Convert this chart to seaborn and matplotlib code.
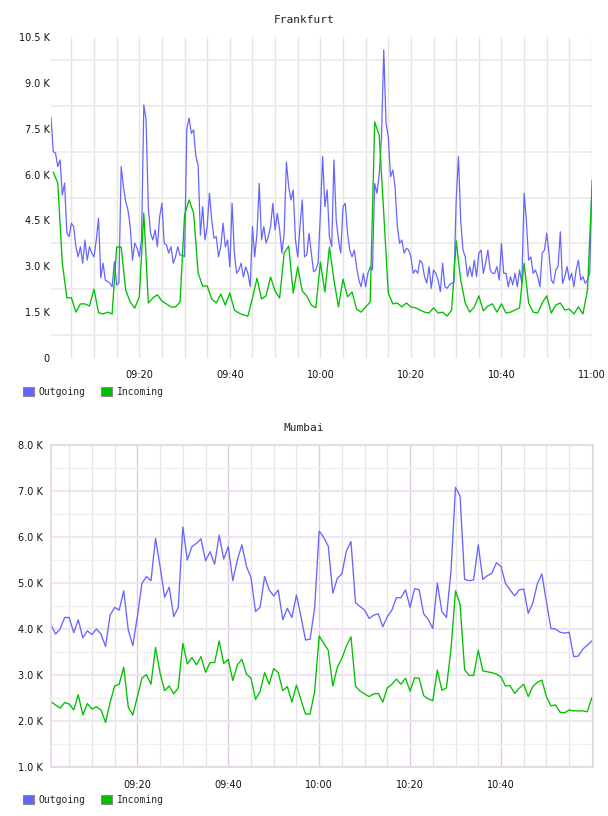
import numpy as np
import pandas as pd
import matplotlib
matplotlib.use("Agg")
import matplotlib.pyplot as plt
import matplotlib.dates as mdates
from matplotlib.patches import Patch
from matplotlib.ticker import FixedLocator, FuncFormatter, MultipleLocator
import seaborn as sns

# ---------------- data (values in thousands) ----------------
fra_out_start = "2024-01-01 09:00:30"   # 30 s samples
fra_in_start = "2024-01-01 09:01:00"    # 1 min samples
mum_start = "2024-01-01 09:01:00"       # 1 min samples

fra_outgoing = [
    7.87, 6.75, 6.70, 6.26, 6.48, 5.33, 5.72, 4.09, 3.97, 4.41,
    4.30, 3.64, 3.31, 3.64, 3.10, 3.86, 3.20, 3.64, 3.43, 3.31,
    3.86, 4.57, 2.62, 3.10, 2.55, 2.50, 2.45, 2.33, 3.15, 2.39,
    2.45, 6.26, 5.60, 5.11, 4.84, 4.30, 3.20, 3.76, 3.60, 3.31,
    3.86, 8.28, 7.79, 4.90, 4.08, 3.86, 4.19, 3.64, 4.62, 5.06,
    3.75, 3.70, 3.43, 3.64, 3.10, 3.31, 3.64, 3.37, 3.37, 3.31,
    7.50, 7.85, 7.35, 7.46, 6.59, 6.30, 4.02, 4.95, 3.86, 4.30,
    5.39, 4.51, 3.92, 3.97, 3.31, 3.64, 4.41, 3.64, 3.86, 2.98,
    5.06, 3.43, 2.77, 2.88, 3.10, 2.65, 2.98, 2.77, 2.33, 4.30,
    3.31, 4.08, 5.71, 3.86, 4.30, 3.76, 3.97, 4.30, 5.06, 4.19,
    4.73, 4.19, 3.43, 4.08, 6.41, 5.60, 5.17, 5.50, 3.86, 3.31,
    4.30, 5.17, 3.31, 3.37, 4.08, 3.43, 2.82, 2.88, 3.10, 4.73,
    6.59, 4.95, 5.50, 3.97, 3.64, 6.48, 4.51, 3.86, 3.43, 4.95,
    5.06, 4.08, 3.53, 3.31, 3.53, 2.98, 2.55, 2.33, 2.77, 2.33,
    2.77, 2.98, 2.88, 5.71, 5.39, 6.00, 7.20, 10.08, 7.68, 7.24,
    5.93, 6.15, 5.60, 4.30, 3.75, 3.86, 3.43, 3.59, 3.53, 3.31,
    2.77, 2.88, 2.77, 3.20, 3.10, 2.66, 2.45, 2.99, 2.28, 2.88,
    2.77, 2.55, 2.17, 3.10, 2.33, 2.28, 2.39, 2.45, 2.45, 5.17,
    6.59, 4.50, 3.53, 3.31, 2.66, 2.99, 2.66, 3.20, 2.66, 3.43,
    3.53, 2.77, 3.10, 3.53, 2.88, 2.77, 2.77, 2.99, 2.55, 3.75,
    2.77, 2.77, 2.33, 2.66, 2.39, 2.77, 2.33, 2.88, 2.44, 5.39,
    4.51, 3.20, 3.31, 2.77, 2.88, 2.66, 2.33, 3.43, 3.53, 4.08,
    3.43, 2.55, 2.44, 2.88, 2.99, 4.13, 2.44, 2.66, 2.99, 2.55,
    2.77, 2.33, 2.88, 3.20, 2.55, 2.66, 2.44, 2.55, 2.77, 5.82,
]

fra_incoming = [
    6.08, 5.72, 3.10, 1.97, 1.97, 1.50, 1.77, 1.77, 1.70, 2.25,
    1.48, 1.44, 1.50, 1.44, 3.63, 3.63, 2.22, 1.83, 1.63, 2.00,
    4.74, 1.80, 1.96, 2.07, 1.86, 1.77, 1.67, 1.67, 1.83, 4.68,
    5.17, 4.74, 2.78, 2.35, 2.36, 1.93, 1.80, 2.09, 1.73, 2.13,
    1.57, 1.47, 1.41, 1.37, 1.96, 2.61, 1.93, 2.03, 2.65, 2.19,
    1.96, 3.43, 3.66, 2.13, 2.98, 2.19, 2.03, 1.73, 1.64, 3.14,
    2.16, 3.63, 2.55, 1.67, 2.58, 2.00, 2.16, 1.60, 1.50, 1.67,
    1.83, 7.72, 7.29, 4.74, 2.13, 1.77, 1.80, 1.67, 1.80, 1.67,
    1.64, 1.57, 1.50, 1.47, 1.64, 1.47, 1.50, 1.37, 1.57, 3.83,
    2.55, 1.80, 1.50, 1.67, 2.03, 1.54, 1.70, 1.77, 1.50, 1.77,
    1.47, 1.50, 1.57, 1.64, 3.10, 1.80, 1.50, 1.47, 1.80, 2.03,
    1.47, 1.73, 1.80, 1.57, 1.60, 1.44, 1.67, 1.44, 2.22, 5.59,
]

mum_outgoing = [
    4.09, 3.89, 4.00, 4.25, 4.25, 3.92, 4.20, 3.81, 3.96, 3.88,
    4.00, 3.89, 3.62, 4.30, 4.47, 4.41, 4.83, 3.98, 3.64, 4.27,
    4.99, 5.14, 5.05, 5.97, 5.36, 4.69, 4.91, 4.27, 4.47, 6.22,
    5.50, 5.79, 5.86, 5.96, 5.48, 5.68, 5.41, 6.04, 5.52, 5.79,
    5.05, 5.50, 5.83, 5.36, 5.12, 4.38, 4.47, 5.14, 4.85, 4.72,
    4.85, 4.20, 4.45, 4.25, 4.74, 4.27, 3.76, 3.78, 4.45, 6.13,
    5.99, 5.80, 4.78, 5.10, 5.20, 5.70, 5.90, 4.57, 4.49, 4.41,
    4.23, 4.30, 4.33, 4.05, 4.27, 4.41, 4.68, 4.68, 4.85, 4.47,
    4.88, 4.85, 4.33, 4.21, 4.01, 5.00, 4.38, 4.25, 5.25, 7.08,
    6.89, 5.08, 5.05, 5.07, 5.83, 5.08, 5.16, 5.21, 5.44, 5.36,
    4.99, 4.85, 4.72, 4.85, 4.87, 4.34, 4.56, 4.98, 5.20, 4.59,
    4.01, 4.00, 3.93, 3.91, 3.93, 3.40, 3.41, 3.56, 3.65, 3.74,
]

mum_incoming = [
    2.42, 2.35, 2.28, 2.40, 2.37, 2.24, 2.57, 2.13, 2.38, 2.26,
    2.31, 2.24, 1.97, 2.40, 2.76, 2.80, 3.17, 2.30, 2.13, 2.53,
    2.93, 3.01, 2.80, 3.60, 3.04, 2.66, 2.76, 2.59, 2.72, 3.69,
    3.24, 3.38, 3.22, 3.40, 3.06, 3.27, 3.27, 3.74, 3.25, 3.34,
    2.88, 3.22, 3.34, 3.02, 2.93, 2.47, 2.64, 3.05, 2.80, 3.14,
    3.05, 2.66, 2.75, 2.41, 2.78, 2.46, 2.15, 2.15, 2.64, 3.85,
    3.69, 3.54, 2.76, 3.17, 3.36, 3.63, 3.83, 2.76, 2.65, 2.59,
    2.53, 2.59, 2.60, 2.41, 2.72, 2.80, 2.91, 2.80, 2.93, 2.65,
    2.94, 2.93, 2.55, 2.48, 2.44, 3.11, 2.67, 2.72, 3.56, 4.83,
    4.54, 3.12, 2.99, 2.99, 3.54, 3.09, 3.07, 3.05, 3.02, 2.96,
    2.76, 2.77, 2.60, 2.71, 2.80, 2.53, 2.75, 2.84, 2.89, 2.53,
    2.33, 2.35, 2.19, 2.18, 2.24, 2.22, 2.22, 2.22, 2.20, 2.51,
]

series_names = ["Outgoing", "Incoming"]
fra_yticks = [0, 1.5, 3.0, 4.5, 6.0, 7.5, 9.0, 10.5]
mum_yticks = [1, 2, 3, 4, 5, 6, 7, 8]
fra_xtick_labels = ["09:20", "09:40", "10:00", "10:20", "10:40", "11:00"]
mum_xtick_labels = ["09:20", "09:40", "10:00", "10:20", "10:40"]

# ---------------- frames ----------------
fra_out_df = pd.DataFrame({
    "time": pd.date_range(fra_out_start, periods=len(fra_outgoing), freq="30s"),
    "value": fra_outgoing})
fra_in_df = pd.DataFrame({
    "time": pd.date_range(fra_in_start, periods=len(fra_incoming), freq="1min"),
    "value": fra_incoming})
mum_t = pd.date_range(mum_start, periods=len(mum_outgoing), freq="1min")
mum_out_df = pd.DataFrame({"time": mum_t, "value": mum_outgoing})
mum_in_df = pd.DataFrame({"time": mum_t, "value": mum_incoming})

# ---------------- style ----------------
sns.set_theme(style="white")
plt.rcParams["font.family"] = ["DejaVu Sans"]
BLUE = "#6666ff"
GREEN = "#00c000"
MONO = "DejaVu Sans Mono"

W, H = 608, 816
fig = plt.figure(figsize=(W / 100, H / 100), dpi=100)
fig.patch.set_facecolor("white")


def rect(l, t, r, b):
    return [l / W, 1 - b / H, (r - l) / W, (b - t) / H]


def kfmt(v, _pos):
    if abs(v) < 1e-9:
        return "0"
    return f"{v:.1f} K"


def day_ticks(labels):
    return [mdates.date2num(pd.Timestamp("2024-01-01 " + s)) for s in labels]


# ---------------- Frankfurt ----------------
ax1 = fig.add_axes(rect(51, 37, 592, 358))
sns.lineplot(data=fra_out_df, x="time", y="value", ax=ax1, color=BLUE, lw=0.9)
sns.lineplot(data=fra_in_df, x="time", y="value", ax=ax1, color=GREEN, lw=0.95)
ax1.set_xlim(pd.Timestamp(fra_out_start), pd.Timestamp("2024-01-01 11:00:00"))
ax1.set_ylim(0, 10.5)
for s in ax1.spines.values():
    s.set_visible(False)
ax1.yaxis.set_major_locator(FixedLocator(fra_yticks))
ax1.yaxis.set_minor_locator(FixedLocator([v + 0.75 for v in fra_yticks[:-1]]))
ax1.yaxis.set_major_formatter(FuncFormatter(kfmt))
ax1.xaxis.set_major_locator(FixedLocator(day_ticks(fra_xtick_labels)))
ax1.xaxis.set_major_formatter(mdates.DateFormatter("%H:%M"))
ax1.xaxis.set_minor_locator(mdates.MinuteLocator(byminute=range(0, 60, 5)))
ax1.grid(False)
ax1.yaxis.grid(True, which="minor", color="#ececec", lw=1.3)
ax1.xaxis.grid(True, which="both", color="#e4e4e4", lw=1.0)
ax1.tick_params(axis="y", which="both", length=0, pad=1, labelsize=7, labelcolor="#111111")
ax1.tick_params(axis="x", which="both", length=3, color="#e4e4e4", width=1.0,
                direction="out", pad=6, labelsize=7, labelcolor="#111111")
ax1.set_xlabel("")
ax1.set_ylabel("")
ax1.set_axisbelow(True)

# ---------------- Mumbai ----------------
ax2 = fig.add_axes(rect(51, 445, 593, 767))
sns.lineplot(data=mum_out_df, x="time", y="value", ax=ax2, color=BLUE, lw=0.95)
sns.lineplot(data=mum_in_df, x="time", y="value", ax=ax2, color=GREEN, lw=0.95)
ax2.set_xlim(pd.Timestamp(mum_start), pd.Timestamp("2024-01-01 11:00:15"))
ax2.set_ylim(1, 8)
for s in ax2.spines.values():
    s.set_visible(True)
    s.set_color("#e6d4e6")
    s.set_linewidth(1.2)
ax2.yaxis.set_major_locator(FixedLocator(mum_yticks))
ax2.yaxis.set_minor_locator(MultipleLocator(0.5))
ax2.yaxis.set_major_formatter(FuncFormatter(kfmt))
ax2.xaxis.set_major_locator(FixedLocator(day_ticks(mum_xtick_labels)))
ax2.xaxis.set_major_formatter(mdates.DateFormatter("%H:%M"))
ax2.xaxis.set_minor_locator(mdates.MinuteLocator(byminute=range(0, 60, 5)))
ax2.grid(False)
ax2.yaxis.grid(True, which="major", color="#f1e4f1", lw=1.6)
ax2.yaxis.grid(True, which="minor", color="#f0f0f0", lw=1.0)
ax2.xaxis.grid(True, which="major", color="#dfcadf", lw=1.0)
ax2.xaxis.grid(True, which="minor", color="#e9e4e9", lw=0.9)
ax2.tick_params(axis="y", which="both", length=0, pad=6, labelsize=7, labelcolor="#111111")
ax2.tick_params(axis="x", which="both", length=0, pad=9, labelsize=7, labelcolor="#111111")
ax2.set_xlabel("")
ax2.set_ylabel("")
ax2.set_axisbelow(True)

# ---------------- titles ----------------
fig.text(0.5, 1 - 20 / H, "Frankfurt", ha="center", va="center",
         family=MONO, fontsize=8, color="#222222")
fig.text(0.5, 1 - 428 / H, "Mumbai", ha="center", va="center",
         family=MONO, fontsize=8, color="#222222")

# ---------------- legends ----------------
def add_legend(ycenter):
    handles = [Patch(facecolor=BLUE, edgecolor="#8a8a8a", lw=0.8, label=series_names[0]),
               Patch(facecolor=GREEN, edgecolor="#8a8a8a", lw=0.8, label=series_names[1])]
    fig.legend(handles=handles, loc="center left",
               bbox_to_anchor=(23 / W, 1 - ycenter / H), ncol=2, frameon=False,
               prop={"family": MONO, "size": 7}, handlelength=1.15, handleheight=1.05,
               handletextpad=0.45, columnspacing=1.6, borderpad=0, borderaxespad=0)


add_legend(392)
add_legend(800)

fig.savefig("out.png", dpi=100, facecolor="white")
